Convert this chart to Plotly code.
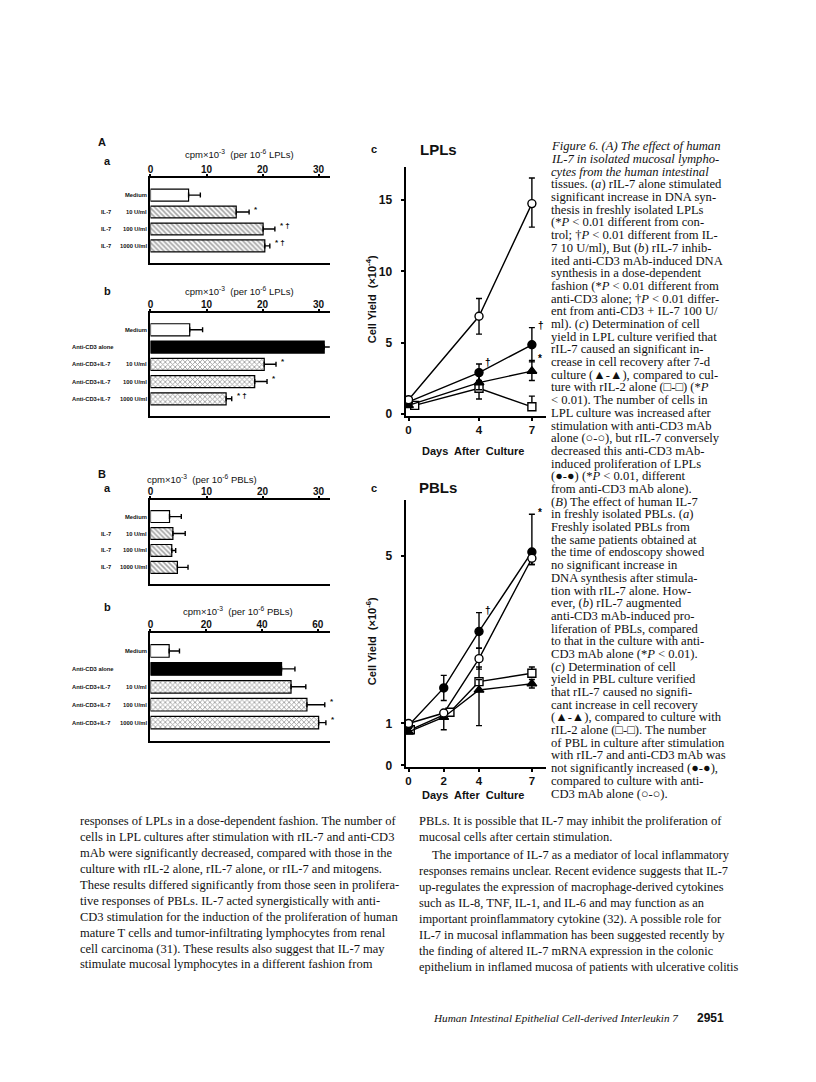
import plotly.graph_objects as go

# page is 816 x 1082; the browser adds an 8 px body margin, so the figure is 800 x 1066
PAGE_OFF = 8
W, H = 800, 1066


def px(x):
    return (x - PAGE_OFF) / W


def py(y):
    return 1 - (y - PAGE_OFF) / H


# ---------------- bar panels (cpm x 10^-3) ----------------
aa_prefix = ["", "IL-7", "IL-7", "IL-7"]
aa_labels = ["Medium", "10 U/ml", "100 U/ml", "1000 U/ml"]
aa_values = [6.8, 15.3, 20.1, 20.4]
aa_errors = [2.1, 2.3, 2.1, 0.9]
aa_marks = ["", "*", "* †", "* †"]

ab_prefix = ["", "Anti-CD3 alone", "Anti-CD3+IL-7", "Anti-CD3+IL-7", "Anti-CD3+IL-7"]
ab_labels = ["Medium", "", "10 U/ml", "100 U/ml", "1000 U/ml"]
ab_values = [7.0, 31.0, 20.3, 18.6, 13.5]
ab_errors = [2.3, 2.7, 2.1, 2.2, 1.0]
ab_marks = ["", "", "*", "*", "* †"]

ba_prefix = ["", "IL-7", "IL-7", "IL-7"]
ba_labels = ["Medium", "10 U/ml", "100 U/ml", "1000 U/ml"]
ba_values = [3.4, 4.0, 3.8, 4.8]
ba_errors = [2.1, 2.2, 0.7, 1.9]
ba_marks = ["", "", "", ""]

bb_prefix = ["", "Anti-CD3 alone", "Anti-CD3+IL-7", "Anti-CD3+IL-7", "Anti-CD3+IL-7"]
bb_labels = ["Medium", "", "10 U/ml", "100 U/ml", "1000 U/ml"]
bb_values = [6.7, 47.0, 50.4, 56.1, 60.3]
bb_errors = [3.7, 4.8, 5.3, 6.4, 2.6]
bb_marks = ["", "", "", "*", "*"]

# ---------------- cell yield curves ----------------
lpl_days = [0, 4, 7]
lpl_sq_days = [0.35, 4, 7]
lpl_anti = [1.0, 6.85, 14.75]
lpl_anti_up = [0.15, 1.25, 1.8]
lpl_anti_dn = [0.15, 1.25, 1.65]
lpl_combo = [0.85, 2.9, 4.85]
lpl_combo_up = [0, 0.6, 1.2]
lpl_combo_dn = [0, 0.55, 1.2]
lpl_combo_marks = ["", "†", "†"]
lpl_il7 = [0.6, 2.2, 3.0]
lpl_il7_up = [0, 0.55, 0.75]
lpl_il7_dn = [0, 0.5, 0.65]
lpl_il7_marks = ["", "", "*"]
lpl_il2 = [0.6, 1.8, 0.5]
lpl_il2_up = [0, 0.5, 0.75]
lpl_il2_dn = [0, 0.75, 0]

pbl_days = [0, 2, 4, 7]
pbl_sq_days = [0.1, 2.35, 4, 7]
pbl_anti = [1.0, 1.25, 2.55, 4.95]
pbl_anti_up = [0, 0, 0.25, 0]
pbl_anti_dn = [0, 0, 0.25, 0.15]
pbl_combo = [0.95, 1.85, 3.2, 5.1]
pbl_combo_up = [0, 0.3, 0.45, 0.9]
pbl_combo_dn = [0, 0.3, 0.4, 0.3]
pbl_combo_marks = ["", "", "†", "*"]
pbl_il2 = [0.85, 1.27, 2.0, 2.2]
pbl_il2_up = [0, 0, 0.35, 0.15]
pbl_il2_dn = [0, 0, 0, 0]
pbl_il7 = [0.8, 1.15, 1.8, 1.95]
pbl_il7_up = [0, 0.1, 0.25, 0.1]
pbl_il7_dn = [0, 0.3, 0.85, 0.1]

# ---------------- page text ----------------
caption = [
    "<i>Figure 6. (A) The effect of human</i>",
    "<i>IL-7 in isolated mucosal lympho-</i>",
    "<i>cytes from the human intestinal</i>",
    "tissues. (<i>a</i>) rIL-7 alone stimulated",
    "significant increase in DNA syn-",
    "thesis in freshly isolated LPLs",
    "(*<i>P</i> &lt; 0.01 different from con-",
    "trol; †<i>P</i> &lt; 0.01 different from IL-",
    "7 10 U/ml), But (<i>b</i>) rIL-7 inhib-",
    "ited anti-CD3 mAb-induced DNA",
    "synthesis in a dose-dependent",
    "fashion (*<i>P</i> &lt; 0.01 different from",
    "anti-CD3 alone; †<i>P</i> &lt; 0.01 differ-",
    "ent from anti-CD3 + IL-7 100 U/",
    "ml). (<i>c</i>) Determination of cell",
    "yield in LPL culture verified that",
    "rIL-7 caused an significant in-",
    "crease in cell recovery after 7-d",
    "culture (▲-▲), compared to cul-",
    "ture with rIL-2 alone (□-□) (*<i>P</i>",
    "&lt; 0.01). The number of cells in",
    "LPL culture was increased after",
    "stimulation with anti-CD3 mAb",
    "alone (○-○), but rIL-7 conversely",
    "decreased this anti-CD3 mAb-",
    "induced proliferation of LPLs",
    "(●-●) (*<i>P</i> &lt; 0.01, different",
    "from anti-CD3 mAb alone).",
    "(<i>B</i>) The effect of human IL-7",
    "in freshly isolated PBLs. (<i>a</i>)",
    "Freshly isolated PBLs from",
    "the same patients obtained at",
    "the time of endoscopy showed",
    "no significant increase in",
    "DNA synthesis after stimula-",
    "tion with rIL-7 alone. How-",
    "ever, (<i>b</i>) rIL-7 augmented",
    "anti-CD3 mAb-induced pro-",
    "liferation of PBLs, compared",
    "to that in the culture with anti-",
    "CD3 mAb alone (*<i>P</i> &lt; 0.01).",
    "(<i>c</i>) Determination of cell",
    "yield in PBL culture verified",
    "that rIL-7 caused no signifi-",
    "cant increase in cell recovery",
    "(▲-▲), compared to culture with",
    "rIL-2 alone (□-□). The number",
    "of PBL in culture after stimulation",
    "with rIL-7 and anti-CD3 mAb was",
    "not significantly increased (●-●),",
    "compared to culture with anti-",
    "CD3 mAb alone (○-○).",
]

body_left = [
    "responses of LPLs in a dose-dependent fashion. The number of",
    "cells in LPL cultures after stimulation with rIL-7 and anti-CD3",
    "mAb were significantly decreased, compared with those in the",
    "culture with rIL-2 alone, rIL-7 alone, or rIL-7 and mitogens.",
    "These results differed significantly from those seen in prolifera-",
    "tive responses of PBLs. IL-7 acted synergistically with anti-",
    "CD3 stimulation for the induction of the proliferation of human",
    "mature T cells and tumor-infiltrating lymphocytes from renal",
    "cell carcinoma (31). These results also suggest that IL-7 may",
    "stimulate mucosal lymphocytes in a different fashion from",
]
body_right_1 = [
    "PBLs. It is possible that IL-7 may inhibit the proliferation of",
    "mucosal cells after certain stimulation.",
]
body_right_2 = [
    "The importance of IL-7 as a mediator of local inflammatory",
    "responses remains unclear. Recent evidence suggests that IL-7",
    "up-regulates the expression of macrophage-derived cytokines",
    "such as IL-8, TNF, IL-1, and IL-6 and may function as an",
    "important proinflammatory cytokine (32). A possible role for",
    "IL-7 in mucosal inflammation has been suggested recently by",
    "the finding of altered IL-7 mRNA expression in the colonic",
    "epithelium in inflamed mucosa of patients with ulcerative colitis",
]

INK = "#111111"
SANS = "Liberation Sans"
SERIF = "Liberation Serif"

fig = go.Figure()
annotations = []


def text(x, y, s, size, family=SANS, bold=False, anchor="left", italic=False, angle=0):
    annotations.append(dict(
        x=px(x), y=py(y), xref="paper", yref="paper", text=s, showarrow=False,
        xanchor=anchor, yanchor="middle", textangle=angle,
        font=dict(family=family, size=size, color=INK,
                  weight="bold" if bold else "normal",
                  style="italic" if italic else "normal"),
    ))


def bar_style(prefix, label):
    if label == "Medium":
        return "white", ""
    if prefix == "Anti-CD3 alone":
        return "black", ""
    if prefix == "IL-7":
        return "white", "\\"
    return "white", "x"


panels = [
    ("", aa_prefix, aa_labels, aa_values, aa_errors, aa_marks, 32, [0, 10, 20, 30], 179, 264,
     "LPLs", 237, 155, "a", 162, 96),
    ("2", ab_prefix, ab_labels, ab_values, ab_errors, ab_marks, 32, [0, 10, 20, 30], 314, 418,
     "LPLs", 237, 292, "b", 292, 67),
    ("3", ba_prefix, ba_labels, ba_values, ba_errors, ba_marks, 32, [0, 10, 20, 30], 502, 587,
     "PBLs", 200, 481, "a", 490, 96),
    ("4", bb_prefix, bb_labels, bb_values, bb_errors, bb_marks, 64.3, [0, 20, 40, 60], 636, 744,
     "PBLs", 236, 614, "b", 610, 67),
]

layout_axes = {}
for (aid, prefix, labels, values, errors, marks, xmax, ticks, top, bot,
     cells, tx, ty, letter, ly, prefx) in panels:
    rows = [(p + " " + l).strip() for p, l in zip(prefix, labels)]
    colors, shapes = zip(*[bar_style(p, l) for p, l in zip(prefix, labels)])
    fig.add_trace(go.Bar(
        y=rows, x=values, orientation="h",
        xaxis="x" + aid, yaxis="y" + aid,
        marker=dict(color=list(colors), line=dict(color="black", width=1.2),
                    pattern=dict(shape=list(shapes), fgcolor="black", fillmode="overlay",
                                 size=3.5, solidity=0.45)),
        error_x=dict(type="data", symmetric=False, array=errors, arrayminus=[0] * len(errors),
                     color="black", thickness=1.4, width=2.5),
        showlegend=False, hoverinfo="skip",
    ))
    n = len(rows)
    layout_axes["xaxis" + aid] = dict(
        domain=[px(148), px(328)], anchor="y" + aid, range=[0, xmax], side="top",
        tickvals=ticks, showgrid=False, zeroline=False, showline=True, mirror=True,
        linecolor="black", linewidth=2, ticks="outside", ticklen=2, tickwidth=1.5,
        tickcolor="black", ticklabelstandoff=-3,
        tickfont=dict(family=SANS, size=10, color=INK, weight="bold"),
    )
    layout_axes["yaxis" + aid] = dict(
        domain=[py(bot), py(top)], anchor="x" + aid, type="category",
        categoryorder="array", categoryarray=rows, range=[n, -1],
        showgrid=False, zeroline=False, showline=True, linecolor="black", linewidth=2,
        ticks="", showticklabels=False,
    )
    for i, (p, l, m) in enumerate(zip(prefix, labels, marks)):
        if p:
            annotations.append(dict(
                x=px(prefx), y=i, xref="paper", yref="y" + aid, text=p, showarrow=False,
                xanchor="left", yanchor="middle",
                font=dict(family=SANS, size=5.8, color=INK, weight="bold")))
        if l:
            annotations.append(dict(
                x=px(147), y=i, xref="paper", yref="y" + aid, text=l, showarrow=False,
                xanchor="right", yanchor="middle",
                font=dict(family=SANS, size=5.8, color=INK, weight="bold")))
        if m:
            annotations.append(dict(
                x=values[i] + errors[i], y=i, xref="x" + aid, yref="y" + aid, text=m,
                showarrow=False, xanchor="left", yanchor="middle", xshift=3, yshift=3,
                font=dict(family=SANS, size=8, color=INK, weight="bold")))
    text(tx, ty, "cpm×10<sup>-3</sup>  (per 10<sup>-6</sup> " + cells + ")", 9.5, anchor="center")
    text(105, ly, letter, 11, bold=True, anchor="center")

text(99, 143, "A", 11, bold=True, anchor="center")
text(99, 476, "B", 11, bold=True, anchor="center")

# ---------------- line panels ----------------
series_style = {
    "anti": dict(symbol="circle", color="white"),
    "combo": dict(symbol="circle", color="black"),
    "il7": dict(symbol="triangle-up", color="black"),
    "il2": dict(symbol="square", color="white"),
}

line_panels = [
    ("5", [
        ("il2", lpl_sq_days, lpl_il2, lpl_il2_up, lpl_il2_dn, None),
        ("il7", lpl_days, lpl_il7, lpl_il7_up, lpl_il7_dn, lpl_il7_marks),
        ("combo", lpl_days, lpl_combo, lpl_combo_up, lpl_combo_dn, lpl_combo_marks),
        ("anti", lpl_days, lpl_anti, lpl_anti_up, lpl_anti_dn, None),
    ], 168, 418, [-0.15, 17.3], [0, 5, 10, 15], [0, 4, 7], "LPLs", "-4", 150, 453),
    ("6", [
        ("il2", pbl_sq_days, pbl_il2, pbl_il2_up, pbl_il2_dn, None),
        ("il7", pbl_days, pbl_il7, pbl_il7_up, pbl_il7_dn, None),
        ("combo", pbl_days, pbl_combo, pbl_combo_up, pbl_combo_dn, pbl_combo_marks),
        ("anti", pbl_days, pbl_anti, pbl_anti_up, pbl_anti_dn, None),
    ], 502, 771, [-0.05, 6.35], [0, 1, 5], [0, 2, 4, 7], "PBLs", "-6", 490, 799),
]

for aid, series, top, bot, yr, yticks, xticks, name, exp, title_y, xlab_y in line_panels:
    for key, xs, ys, up, dn, marks in series:
        st = series_style[key]
        fig.add_trace(go.Scatter(
            x=xs, y=ys, mode="lines+markers", xaxis="x" + aid, yaxis="y" + aid,
            line=dict(color="black", width=1.4),
            marker=dict(symbol=st["symbol"], size=8 if key != "il7" else 8.5,
                        color=st["color"], line=dict(color="black", width=1.4)),
            error_y=dict(type="data", symmetric=False, array=up, arrayminus=dn,
                         color="black", thickness=1.4, width=3),
            showlegend=False, hoverinfo="skip",
        ))
        if marks:
            for xv, yv, u, m in zip(xs, ys, up, marks):
                if m:
                    annotations.append(dict(
                        x=xv, y=yv + u, xref="x" + aid, yref="y" + aid, text=m,
                        showarrow=False, xanchor="left", yanchor="middle",
                        xshift=4, yshift=2,
                        font=dict(family=SANS, size=10, color="black", weight="bold")))
    layout_axes["xaxis" + aid] = dict(
        domain=[px(404), px(545)], anchor="y" + aid, range=[-0.17, 7.8],
        tickvals=xticks, showgrid=False, zeroline=False, showline=True,
        linecolor="black", linewidth=2, ticks="outside", ticklen=3, tickwidth=1.5,
        tickcolor="black", ticklabelstandoff=-1,
        tickfont=dict(family=SANS, size=11.5, color=INK, weight="bold"),
    )
    layout_axes["yaxis" + aid] = dict(
        domain=[py(bot), py(top)], anchor="x" + aid, range=yr,
        tickvals=yticks, showgrid=False, zeroline=False, showline=True,
        linecolor="black", linewidth=2, ticks="outside", ticklen=3, tickwidth=1.5,
        tickcolor="black", ticklabelstandoff=6,
        tickfont=dict(family=SANS, size=12, color=INK, weight="bold"),
    )
    text(372, title_y, "c", 11, bold=True, anchor="center")
    text(437, title_y, name, 15, bold=True, anchor="center")
    text(369, (top + bot) / 2 + 8, "Cell Yield  (×10<sup>" + exp + "</sup>)", 11,
         bold=True, anchor="center", angle=-90)
    text(472, xlab_y, "Days  After  Culture", 11, bold=True, anchor="center")

# ---------------- caption & body ----------------
for i, line in enumerate(caption):
    text(548, 147 + i * 12.75, line, 12.6, family=SERIF)

for i, line in enumerate(body_left):
    text(75, 825 + i * 16, line, 12.5, family=SERIF)
for i, line in enumerate(body_right_1):
    text(416, 825 + i * 16, line, 12.5, family=SERIF)
for i, line in enumerate(body_right_2):
    text(416 + (13 if i == 0 else 0), 859 + i * 16.1, line, 12.4, family=SERIF)

text(430, 1023, "Human Intestinal Epithelial Cell-derived Interleukin 7", 11.2,
     family=SERIF, italic=True)
text(695, 1023, "2951", 12, bold=True)

fig.update_layout(
    width=W, height=H, margin=dict(l=0, r=0, t=0, b=0),
    paper_bgcolor="white", plot_bgcolor="white",
    bargap=0.3, showlegend=False,
    annotations=annotations,
    **layout_axes,
)

fig.write_html("out.html")
